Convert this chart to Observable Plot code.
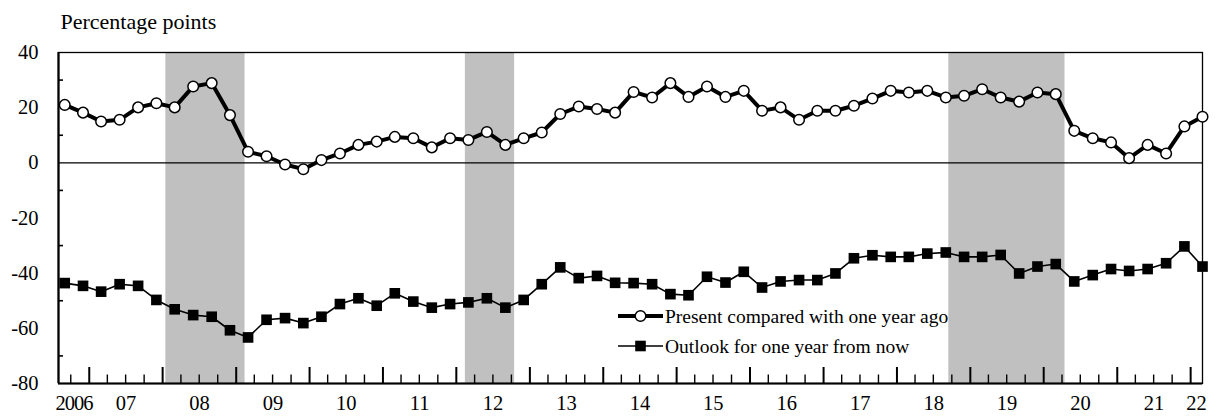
<!DOCTYPE html>
<html><head><meta charset="utf-8">
<script src="https://cdn.jsdelivr.net/npm/d3@7"></script>
<script src="https://cdn.jsdelivr.net/npm/@observablehq/plot@0.6"></script>
<style>body{margin:0;background:#fff} svg{display:block}</style>
</head><body><div id="chart"></div>
<script>
const surveyDates = [
  "2006-09","2006-12",
  "2007-03","2007-06","2007-09","2007-12",
  "2008-03","2008-06","2008-09","2008-12",
  "2009-03","2009-06","2009-09","2009-12",
  "2010-03","2010-06","2010-09","2010-12",
  "2011-03","2011-06","2011-09","2011-12",
  "2012-03","2012-06","2012-09","2012-12",
  "2013-03","2013-06","2013-09","2013-12",
  "2014-03","2014-06","2014-09","2014-12",
  "2015-03","2015-06","2015-09","2015-12",
  "2016-03","2016-06","2016-09","2016-12",
  "2017-03","2017-06","2017-09","2017-12",
  "2018-03","2018-06","2018-09","2018-12",
  "2019-03","2019-06","2019-09","2019-12",
  "2020-03","2020-06","2020-09","2020-12",
  "2021-03","2021-06","2021-09","2021-12",
  "2022-03"
];
const presentVsYearAgo = [21.0, 18.2, 15.0, 15.6, 20.1, 21.6, 20.1, 27.7, 28.9, 17.3, 4.0, 2.4, -0.6, -2.3, 1.0, 3.4, 6.5, 7.7, 9.4, 8.9, 5.6, 8.9, 8.3, 11.2, 6.5, 8.9, 11.0, 17.7, 20.4, 19.5, 18.2, 25.7, 23.7, 28.9, 23.9, 27.7, 23.9, 26.1, 18.9, 20.1, 15.6, 18.9, 18.9, 20.7, 23.3, 26.1, 25.5, 26.1, 23.7, 24.3, 26.7, 23.7, 22.2, 25.5, 24.9, 11.6, 8.9, 7.4, 1.7, 6.5, 3.4, 13.2, 16.7];
const outlookOneYear = [-43.6, -44.6, -46.7, -44.0, -44.6, -49.7, -53.1, -55.2, -55.8, -60.7, -63.3, -56.9, -56.3, -58.1, -55.8, -51.2, -49.1, -51.8, -47.3, -50.3, -52.5, -51.2, -50.6, -49.1, -52.5, -49.7, -44.0, -37.9, -41.8, -41.0, -43.5, -43.6, -44.0, -47.6, -48.0, -41.3, -43.4, -39.5, -45.2, -43.0, -42.5, -42.5, -40.1, -34.6, -33.5, -34.1, -34.1, -32.9, -32.5, -34.1, -34.1, -33.4, -40.1, -37.6, -36.7, -43.0, -40.7, -38.5, -39.2, -38.5, -36.4, -30.3, -37.6];
const seriesNames = ["Present compared with one year ago", "Outlook for one year from now"];
const recessionPeaks = ["2008-02", "2012-03", "2018-10"];
const recessionTroughs = ["2009-03", "2012-11", "2020-05"];
const years = [2006,2007,2008,2009,2010,2011,2012,2013,2014,2015,2016,2017,2018,2019,2020,2021,2022];
const yearLabels = ["2006","07","08","09","10","11","12","13","14","15","16","17","18","19","20","21","22"];
const yTicksMajor = [-80, -60, -40, -20, 0, 20, 40];
const yTicksMinor = [-70, -50, -30, -10, 10, 30];
const axisStart = "2006-08", axisEnd = "2022-03";
const yAxisLabel = "Percentage points";

const parse = d3.utcParse("%Y-%m");
const dates = surveyDates.map(parse);
const present = dates.map((date, i) => ({date, value: presentVsYearAgo[i]}));
const outlook = dates.map((date, i) => ({date, value: outlookOneYear[i]}));
const xDomain = [parse(axisStart), parse(axisEnd)];
// shading bars are month-wide columns centred on each month
const halfMonth = d => d3.utcDay.offset(d, -15);
const recessions = recessionPeaks.map((p, i) => ({x1: halfMonth(parse(p)), x2: halfMonth(parse(recessionTroughs[i]))}));
const yearStarts = years.slice(1).map(y => new Date(Date.UTC(y, 0, 1)));
const quarterTicks = d3.utcMonth.every(3).range(xDomain[0], xDomain[1]).filter(d => d.getUTCMonth() !== 0);
const labelPos = years.map((y, i) => {
  const lo = Math.max(+new Date(Date.UTC(y, 0, 1)), +xDomain[0]);
  const hi = Math.min(+new Date(Date.UTC(y + 1, 0, 1)), +xDomain[1]);
  return {x: new Date((lo + hi) / 2), label: yearLabels[i]};
});

const font = "Liberation Serif, Times New Roman, serif";
const chart = Plot.plot({
  width: 1224,
  height: 416,
  marginLeft: 58,
  marginRight: 22,
  marginTop: 52,
  marginBottom: 33,
  style: {fontFamily: font, fontSize: "20px", background: "white", color: "black", overflow: "visible"},
  x: {type: "utc", domain: xDomain, label: null},
  y: {domain: [-80, 40], label: null},
  marks: [
    Plot.rect(recessions, {x1: "x1", x2: "x2", fill: "#c0c0c0"}),
    Plot.ruleY([0], {stroke: "black", strokeWidth: 1.3}),
    Plot.frame({stroke: "black", strokeWidth: 1.3}),
    Plot.ruleX([xDomain[0]], {stroke: "black", strokeWidth: 2.2}),
    Plot.ruleY([-80], {stroke: "black", strokeWidth: 2.2}),
    Plot.axisY(yTicksMinor, {tickSize: 5, dx: 5, strokeWidth: 1.6, tickFormat: () => ""}),
    Plot.axisY(yTicksMajor, {tickSize: 0, tickPadding: 20, fontSize: 20.5, tickFormat: d => String(d)}),
    Plot.axisX(yearStarts, {anchor: "bottom", tickSize: 16, dy: -16, strokeWidth: 2, tickFormat: () => ""}),
    Plot.axisX(quarterTicks, {anchor: "bottom", tickSize: 8.5, dy: -8.5, strokeWidth: 1.4, tickFormat: () => ""}),
    Plot.text(labelPos, {x: "x", text: "label", frameAnchor: "bottom", lineAnchor: "middle", dy: 20, fontSize: 20.5}),
    Plot.text([yAxisLabel], {frameAnchor: "top-left", lineAnchor: "middle", dx: 2, dy: -31, fontSize: 22}),
    Plot.line(outlook, {x: "date", y: "value", stroke: "black", strokeWidth: 1.6}),
    Plot.dot(outlook, {x: "date", y: "value", symbol: "square", r: 6, fill: "black"}),
    Plot.line(present, {x: "date", y: "value", stroke: "black", strokeWidth: 4}),
    Plot.dot(present, {x: "date", y: "value", r: 5.3, fill: "white", stroke: "black", strokeWidth: 1.5})
  ]
});
document.getElementById("chart").appendChild(chart);

// "2006" is drawn condensed in the original
d3.select(chart).selectAll("text").filter(function() { return this.textContent === "2006"; })
  .attr("letter-spacing", "-1px");

// legend inside the plot area
const svg = d3.select(chart);
const lg = svg.append("g").attr("font-family", font).attr("font-size", 19.5).attr("text-anchor", "start");
const rows = [
  {name: seriesNames[0], y: 316, w: 4, marker: "circle"},
  {name: seriesNames[1], y: 346, w: 1.6, marker: "square"}
];
rows.forEach(r => {
  lg.append("line").attr("x1", 618).attr("x2", 663).attr("y1", r.y).attr("y2", r.y)
    .attr("stroke", "black").attr("stroke-width", r.w);
  if (r.marker === "circle") {
    lg.append("circle").attr("cx", 640.5).attr("cy", r.y).attr("r", 5.3)
      .attr("fill", "white").attr("stroke", "black").attr("stroke-width", 1.5);
  } else {
    lg.append("rect").attr("x", 635.2).attr("y", r.y - 5.3).attr("width", 10.6).attr("height", 10.6).attr("fill", "black");
  }
  lg.append("text").attr("x", 665).attr("y", r.y).attr("dy", "0.35em").attr("text-anchor", "start").text(r.name);
});
</script>
</body></html>
